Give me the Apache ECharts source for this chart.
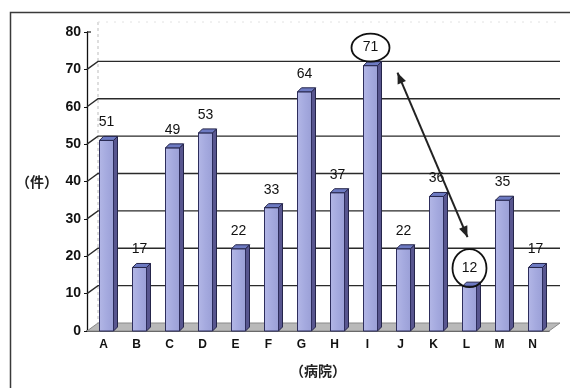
<!DOCTYPE html>
<html>
<head>
<meta charset="utf-8">
<script src="https://cdn.jsdelivr.net/npm/echarts@6/dist/echarts.min.js"></script>
<style>
html,body{margin:0;padding:0;background:#fff;}
#chart{width:570px;height:388px;}
</style>
</head>
<body>
<div id="chart"></div>
<script>
// Cases per hospital
const hospitals = ['A','B','C','D','E','F','G','H','I','J','K','L','M','N'];
const cases = [51, 17, 49, 53, 22, 33, 64, 37, 71, 22, 36, 12, 35, 17];
const wallTicks = [10, 20, 30, 40, 50, 60, 70];
const yMax = 80;

// pseudo-3D depth of the back wall and of each column
const WALL_DX = 11, WALL_DY = -8;
const BAR_DX = 4, BAR_DY = -4;
const LINE = '#2a2a2a';
const FONT = '"Liberation Sans", Arial, sans-serif';
const CJK = '"Noto Sans CJK JP", sans-serif';

const chart = echarts.init(document.getElementById('chart'), null, {renderer: 'canvas'});

function renderWall(params, api) {
  const cs = params.coordSys;
  const v = api.value(1);
  const p = api.coord([0, v]);
  const x = cs.x, xe = cs.x + cs.width;
  return {
    type: 'polyline',
    shape: {points: [[x, p[1]], [x + WALL_DX, p[1] + WALL_DY], [xe + WALL_DX, p[1] + WALL_DY]]},
    style: {stroke: LINE, lineWidth: 1.4, fill: null}
  };
}

function renderBackFrame(params, api) {
  const cs = params.coordSys;
  const top = api.coord([0, yMax]);
  const bot = api.coord([0, 0]);
  const x = cs.x, xe = cs.x + cs.width;
  return {
    type: 'group',
    children: [
      {type: 'line', shape: {x1: x + WALL_DX, y1: top[1] + WALL_DY - 2, x2: x + WALL_DX, y2: bot[1] + WALL_DY},
       style: {stroke: '#bdbdbd', lineWidth: 1, lineDash: [3, 3]}},
      {type: 'line', shape: {x1: x + WALL_DX, y1: top[1] + WALL_DY - 2, x2: xe + WALL_DX, y2: top[1] + WALL_DY - 2},
       style: {stroke: '#e2e2e2', lineWidth: 1, lineDash: [2, 6]}},
      {type: 'line', shape: {x1: x, y1: top[1], x2: x + 4, y2: top[1]},
       style: {stroke: LINE, lineWidth: 1.3}},
      // floor
      {type: 'polygon',
       shape: {points: [[x, bot[1]], [x + WALL_DX, bot[1] + WALL_DY], [xe + WALL_DX, bot[1] + WALL_DY], [xe, bot[1]]]},
       style: {fill: '#b9b9b9', stroke: '#8a8a8a', lineWidth: 1}}
    ]
  };
}

function renderBar(params, api) {
  const i = api.value(0), v = api.value(1);
  const b = api.coord([i, 0]);
  const t = api.coord([i, v]);
  const x0 = b[0] - 4, x1 = b[0] + 10, yb = b[1], yt = t[1];
  return {
    type: 'group',
    children: [
      {type: 'polygon', shape: {points: [[x1, yt], [x1 + BAR_DX, yt + BAR_DY], [x1 + BAR_DX, yb + BAR_DY], [x1, yb]]},
       style: {fill: '#58568f', stroke: '#25254a', lineWidth: 1}},
      {type: 'rect', shape: {x: x0, y: yt, width: x1 - x0, height: yb - yt},
       style: {fill: {type: 'linear', x: 0, y: 0, x2: 1, y2: 0,
                colorStops: [{offset: 0, color: '#b3b7e6'}, {offset: 0.5, color: '#a5aadf'}, {offset: 1, color: '#9a9fd6'}]},
               stroke: '#2d2d5c', lineWidth: 1}},
      {type: 'polygon', shape: {points: [[x0, yt], [x0 + BAR_DX, yt + BAR_DY], [x1 + BAR_DX, yt + BAR_DY], [x1, yt]]},
       style: {fill: '#6d7ac2', stroke: '#25254a', lineWidth: 1}},
      {type: 'text', x: (x0 + x1) / 2, y: yt - 18,
       style: {text: String(v), align: 'center', verticalAlign: 'middle',
               fontSize: 14, fontFamily: FONT, fill: '#111'}}
    ]
  };
}

function arrowHead(tip, from, len, half) {
  const dx = tip[0] - from[0], dy = tip[1] - from[1];
  const d = Math.hypot(dx, dy), ux = dx / d, uy = dy / d;
  const bx = tip[0] - ux * len, by = tip[1] - uy * len;
  return [[tip[0], tip[1]], [bx - uy * half, by + ux * half], [bx + uy * half, by - ux * half]];
}

function renderNotes(params, api) {
  const hi = cases.indexOf(Math.max(...cases));
  const lo = cases.indexOf(Math.min(...cases));
  const ph = api.coord([hi, cases[hi]]);
  const pl = api.coord([lo, cases[lo]]);
  const hx = ph[0] + 3, hy = ph[1] - 18;
  const lx = pl[0] + 3, ly = pl[1] - 18;
  const start = [hx + 27, ph[1] + 7];
  const end = [lx - 2, ly - 31];
  return {
    type: 'group',
    children: [
      {type: 'ellipse', shape: {cx: hx, cy: hy, rx: 19, ry: 14},
       style: {fill: null, stroke: '#111', lineWidth: 1.8}},
      {type: 'ellipse', shape: {cx: lx, cy: ly, rx: 17, ry: 19},
       style: {fill: null, stroke: '#111', lineWidth: 1.8}},
      {type: 'line', shape: {x1: start[0], y1: start[1], x2: end[0], y2: end[1]},
       style: {stroke: '#222', lineWidth: 2}},
      {type: 'polygon', shape: {points: arrowHead(start, end, 11, 4.5)}, style: {fill: '#222'}},
      {type: 'polygon', shape: {points: arrowHead(end, start, 11, 4.5)}, style: {fill: '#222'}}
    ]
  };
}

const option = {
  animation: false,
  backgroundColor: '#fff',
  grid: {left: 87, right: 21, top: 32, bottom: 57},
  graphic: [
    {type: 'rect', left: 8, top: 10, shape: {x: 0, y: 0, width: 600, height: 420},
     style: {fill: null, stroke: '#3a3a3a', lineWidth: 1.5}, silent: true}
  ],
  xAxis: {
    type: 'category',
    data: hospitals,
    name: '（病院）',
    nameLocation: 'middle',
    nameGap: 33,
    nameTextStyle: {fontFamily: CJK, fontSize: 14, fontWeight: 'bold', color: '#222'},
    axisLine: {show: true, lineStyle: {color: '#111', width: 1.5}},
    axisTick: {show: false},
    axisLabel: {fontFamily: FONT, fontSize: 12, fontWeight: 'bold', color: '#111', margin: 8},
    splitLine: {show: false}
  },
  yAxis: {
    type: 'value',
    min: 0, max: yMax, interval: 10,
    name: '（件）',
    nameLocation: 'middle',
    nameRotate: 0,
    nameGap: 29,
    nameTextStyle: {fontFamily: CJK, fontSize: 14, fontWeight: 'bold', color: '#222'},
    axisLine: {show: true, lineStyle: {color: '#111', width: 1.3}},
    axisTick: {show: true, length: 3, lineStyle: {color: '#111'}},
    axisLabel: {fontFamily: FONT, fontSize: 14, fontWeight: 'bold', color: '#111', margin: 6},
    splitLine: {show: false}
  },
  series: [
    {type: 'custom', name: 'back', z: 1, renderItem: renderBackFrame, data: [[0, 0]], silent: true},
    {type: 'custom', name: 'wall', z: 1, renderItem: renderWall,
     encode: {x: 0, y: 1}, data: wallTicks.map(v => [0, v]), silent: true},
    {type: 'custom', name: '件数', z: 3, renderItem: renderBar,
     encode: {x: 0, y: 1}, data: cases.map((v, i) => [i, v])},
    {type: 'custom', name: 'notes', z: 4, renderItem: renderNotes, data: [[0, 0]], silent: true}
  ]
};
chart.setOption(option);
</script>
</body>
</html>
